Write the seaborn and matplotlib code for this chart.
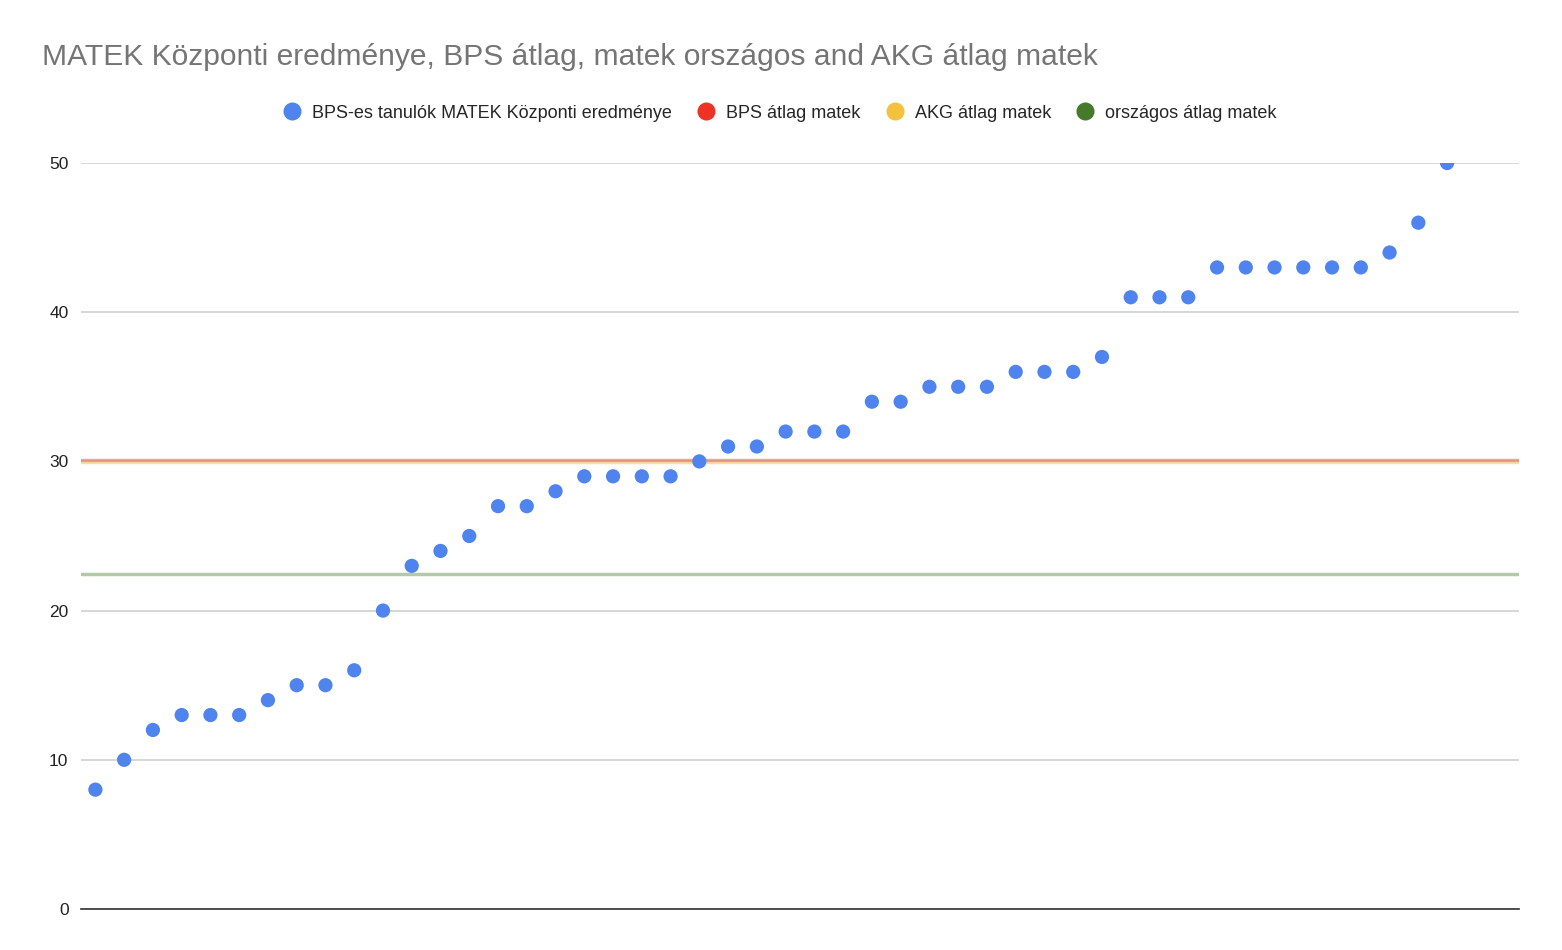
import pandas as pd
import numpy as np
import matplotlib
matplotlib.use('Agg')
import matplotlib.pyplot as plt
from matplotlib.lines import Line2D
import seaborn as sns

# ---------------------------------------------------------------------------------------
## Data
scores = [8, 10, 12, 13, 13, 13, 14, 15, 15, 16, 20, 23, 24, 25, 27, 27, 28, 29, 29, 29,
          29, 30, 31, 31, 32, 32, 32, 34, 34, 35, 35, 35, 36, 36, 36, 37, 41, 41, 41, 43,
          43, 43, 43, 43, 43, 44, 46, 50]
n_slots = 50  # two empty slots at the right end
bps_avg = 30.125
akg_avg = 29.95
orszagos_avg = 22.45
y_ticks = [0, 10, 20, 30, 40, 50]

series_names = ['BPS-es tanulók MATEK Központi eredménye', 'BPS átlag matek',
                'AKG átlag matek', 'országos átlag matek']
colors = ['#4F84EE', '#EE3224', '#F4C13E', '#457A2A']

df = pd.DataFrame({'student': np.arange(len(scores)), 'score': scores})

# ---------------------------------------------------------------------------------------
## Plot
sns.set_style('white')
plt.rcParams['font.family'] = ['Liberation Sans', 'DejaVu Sans']

fig = plt.figure(figsize=(15.62, 9.5), dpi=100)
ax = fig.add_axes([81 / 1562, 41 / 950, (1519 - 81) / 1562, (909 - 163) / 950])

ax.axhline(bps_avg, color=colors[1], alpha=0.45, lw=2.5, zorder=2)
ax.axhline(akg_avg, color=colors[2], alpha=0.5, lw=2.5, zorder=2)
ax.axhline(orszagos_avg, color=colors[3], alpha=0.4, lw=2.5, zorder=2)

sns.scatterplot(data=df, x='student', y='score', ax=ax, color=colors[0], s=105,
                edgecolor='none', zorder=3, legend=False)

ax.set_xlim(-0.5, n_slots - 0.5)
ax.set_ylim(0, 50)
ax.set_yticks(y_ticks)
ax.set_xticks([])
ax.set_xlabel('')
ax.set_ylabel('')
ax.grid(axis='y', color='#d0d0d0', lw=1.2, zorder=0)
ax.set_axisbelow(True)
for side in ['top', 'right', 'left']:
    ax.spines[side].set_visible(False)
ax.spines['bottom'].set_color('#333333')
ax.spines['bottom'].set_linewidth(1.2)
ax.tick_params(axis='y', length=0, pad=9, labelsize=12.5, labelcolor='#222222')

fig.text(42 / 1562, 1 - 57 / 950, 'MATEK Központi eredménye, BPS átlag, matek országos and AKG átlag matek',
         fontsize=21.6, color='#757575', va='center', ha='left')

handles = [Line2D([0], [0], marker='o', ls='none', markersize=13, markerfacecolor=c,
                  markeredgecolor='none') for c in colors]
fig.legend(handles, series_names, loc='center', bbox_to_anchor=(780 / 1562, 1 - 113 / 950),
           ncol=4, frameon=False, fontsize=13, handletextpad=0.6, columnspacing=1.4,
           handlelength=1.0)

plt.savefig('out.png', dpi=100)
